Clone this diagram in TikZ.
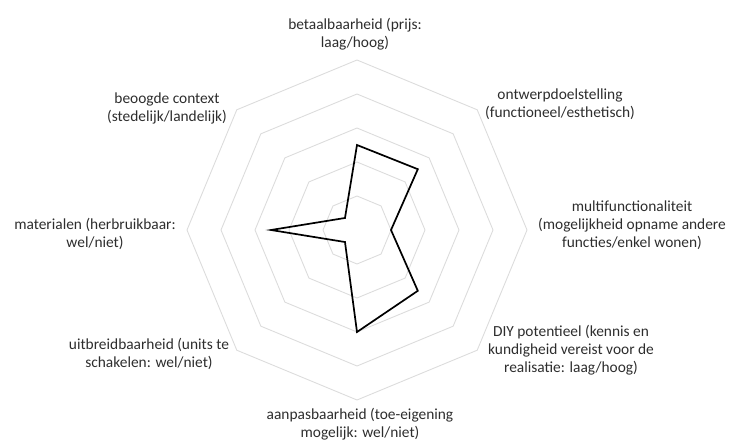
\documentclass[tikz,border=0pt]{standalone}
\usepackage{fontspec}
\setmainfont{Carlito}
\usepackage{tikz}
\usepackage{xcolor}
\definecolor{grille}{RGB}{220,220,220}
\definecolor{texte}{RGB}{45,45,45}

\begin{document}
\begin{tikzpicture}[x=1pt,y=1pt,
	etiquette/.style={align=center,text=texte,inner sep=1pt,font=\fontsize{15.4}{18}\selectfont}]
	\useasboundingbox (0,0) rectangle (738,440);
	\begin{scope}[shift={(357,210)}]
	\foreach \r in {34,68,...,170} % les octogones de la grille
		\draw[color=grille,line width=0.9pt] (90:\r)--(45:\r)--(0:\r)--(-45:\r)--(-90:\r)--(-135:\r)--(180:\r)--(135:\r)--cycle;
	\draw[line width=1.7pt,line join=miter] (90:85)--(45:86)--(0:34)--(-45:86)--(-90:102)--(-135:17)--(180:86)--(135:17)--cycle; % les valeurs
	\end{scope}

	\node[etiquette] (prijs) at (355,406) {betaalbaarheid (prijs:\\laag/hoog)};
	\node[etiquette] (doel) at (560,336) {ontwerpdoelstelling\\(functioneel/esthetisch)};
	\node[etiquette] (multi) at (632,215) {multifunctionaliteit\\(mogelijkheid opname andere\\functies/enkel wonen)};
	\node[etiquette] (diy) at (571,90) {DIY potentieel (kennis en\\kundigheid vereist voor de\\realisatie: laag/hoog)};
	\node[etiquette] (aanpas) at (360,16) {aanpasbaarheid (toe-eigening\\mogelijk: wel/niet)};
	\node[etiquette] (uitbreid) at (149,86) {uitbreidbaarheid (units te\\schakelen: wel/niet)};
	\node[etiquette] (materiaal) at (95,206) {materialen (herbruikbaar:\\wel/niet)};
	\node[etiquette] (context) at (167,332) {beoogde context\\(stedelijk/landelijk)};
\end{tikzpicture}
\end{document}
